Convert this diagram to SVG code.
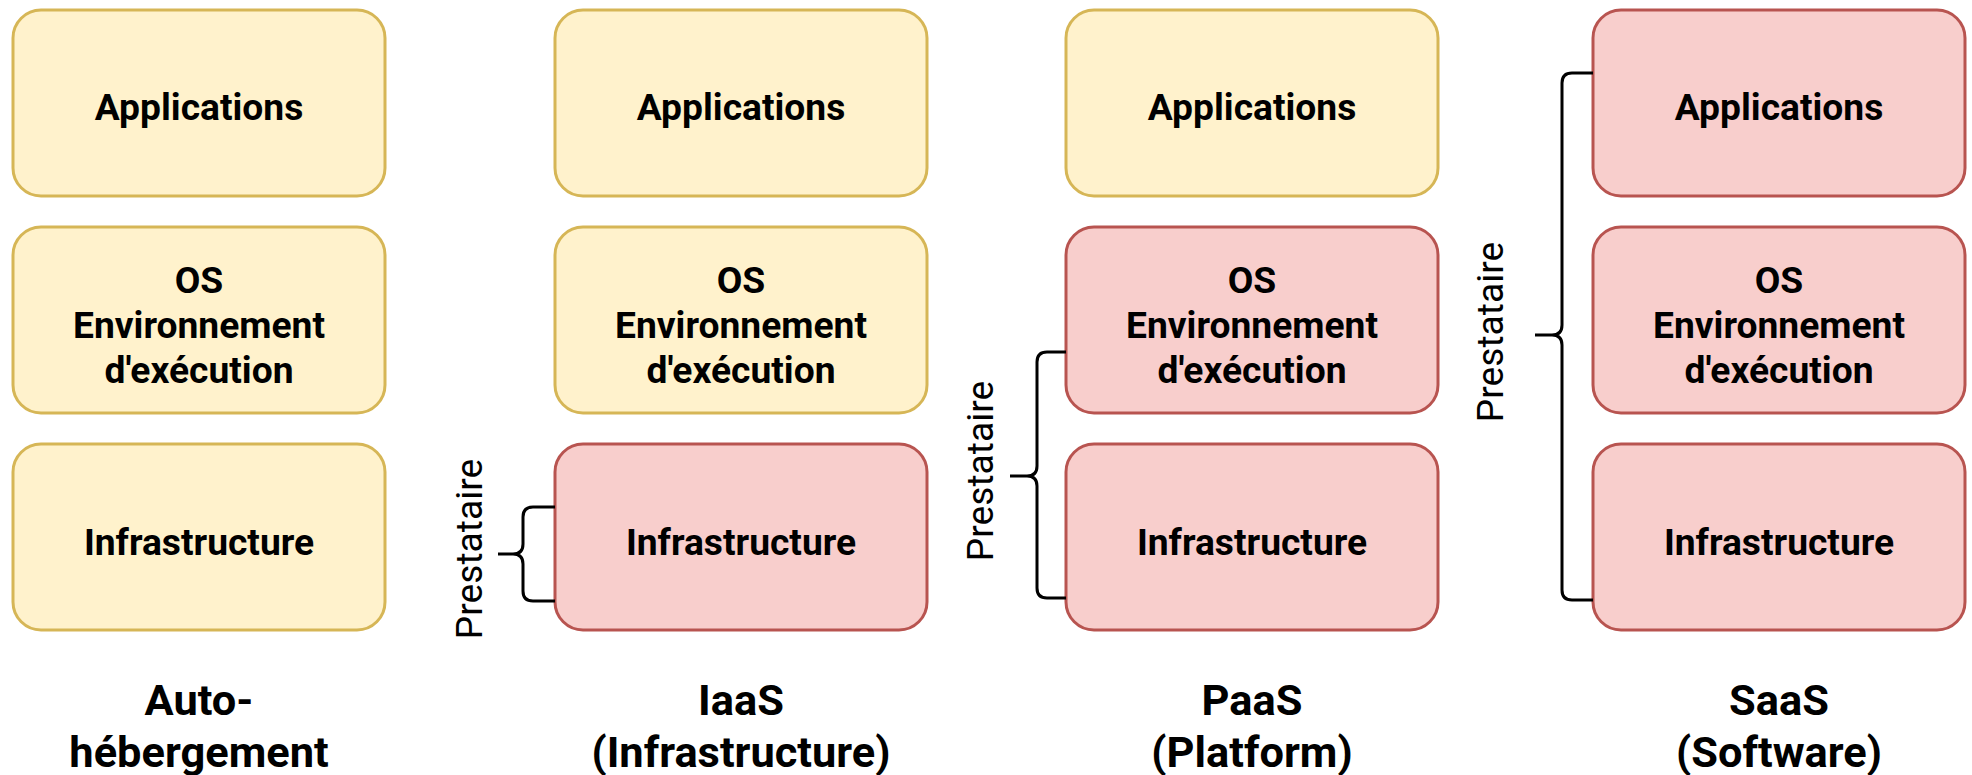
<svg xmlns="http://www.w3.org/2000/svg" width="1972" height="775" viewBox="0 0 1972 775">
<style>
.y{fill:#fff2cc;stroke:#d6b656;stroke-width:3}
.r{fill:#f8cecc;stroke:#b85450;stroke-width:3}
.t{font-family:Roboto,"Liberation Sans",sans-serif;font-weight:bold;font-size:37.2px;fill:#000;text-anchor:middle}
.h{font-family:Roboto,"Liberation Sans",sans-serif;font-weight:bold;font-size:43.4px;fill:#000;text-anchor:middle}
.p{font-family:Roboto,"Liberation Sans",sans-serif;font-size:37.2px;fill:#000;text-anchor:middle}
.b{fill:none;stroke:#000;stroke-width:3}
</style>
<rect width="1972" height="775" fill="#fff"/>
<g id="auto-app"><rect class="y" x="13" y="10" width="372" height="186" rx="28"/><text class="t" x="199" y="120">Applications</text></g>
<g id="auto-os"><rect class="y" x="13" y="227" width="372" height="186" rx="28"/><text class="t" x="199" y="293">OS</text><text class="t" x="199" y="338">Environnement</text><text class="t" x="199" y="383">d'exécution</text></g>
<g id="auto-infra"><rect class="y" x="13" y="444" width="372" height="186" rx="28"/><text class="t" x="199" y="555">Infrastructure</text></g>
<g id="auto-title"><text class="h" x="199" y="715">Auto-</text><text class="h" x="199" y="767">hébergement</text></g>

<g id="iaas-app"><rect class="y" x="555" y="10" width="372" height="186" rx="28"/><text class="t" x="741" y="120">Applications</text></g>
<g id="iaas-os"><rect class="y" x="555" y="227" width="372" height="186" rx="28"/><text class="t" x="741" y="293">OS</text><text class="t" x="741" y="338">Environnement</text><text class="t" x="741" y="383">d'exécution</text></g>
<g id="iaas-infra"><rect class="r" x="555" y="444" width="372" height="186" rx="28"/><text class="t" x="741" y="555">Infrastructure</text></g>
<g id="iaas-title"><text class="h" x="741" y="715">IaaS</text><text class="h" x="741" y="767">(Infrastructure)</text></g>

<g id="paas-app"><rect class="y" x="1066" y="10" width="372" height="186" rx="28"/><text class="t" x="1252" y="120">Applications</text></g>
<g id="paas-os"><rect class="r" x="1066" y="227" width="372" height="186" rx="28"/><text class="t" x="1252" y="293">OS</text><text class="t" x="1252" y="338">Environnement</text><text class="t" x="1252" y="383">d'exécution</text></g>
<g id="paas-infra"><rect class="r" x="1066" y="444" width="372" height="186" rx="28"/><text class="t" x="1252" y="555">Infrastructure</text></g>
<g id="paas-title"><text class="h" x="1252" y="715">PaaS</text><text class="h" x="1252" y="767">(Platform)</text></g>

<g id="saas-app"><rect class="r" x="1593" y="10" width="372" height="186" rx="28"/><text class="t" x="1779" y="120">Applications</text></g>
<g id="saas-os"><rect class="r" x="1593" y="227" width="372" height="186" rx="28"/><text class="t" x="1779" y="293">OS</text><text class="t" x="1779" y="338">Environnement</text><text class="t" x="1779" y="383">d'exécution</text></g>
<g id="saas-infra"><rect class="r" x="1593" y="444" width="372" height="186" rx="28"/><text class="t" x="1779" y="555">Infrastructure</text></g>
<g id="saas-title"><text class="h" x="1779" y="715">SaaS</text><text class="h" x="1779" y="767">(Software)</text></g>

<g id="braces">
<path class="b" d="M555,507 H533 Q523,507 523,517 V544 Q523,554 513,554 H498 M513,554 Q523,554 523,564 V591 Q523,601 533,601 H555"/>
<path class="b" d="M1066,352 H1047 Q1037,352 1037,362 V466 Q1037,476 1027,476 H1010 M1027,476 Q1037,476 1037,486 V588 Q1037,598 1047,598 H1066"/>
<path class="b" d="M1593,73 H1572 Q1562,73 1562,83 V325 Q1562,335 1552,335 H1535 M1552,335 Q1562,335 1562,345 V590 Q1562,600 1572,600 H1593"/>
</g>
<g id="labels">
<text class="p" transform="translate(482,549) rotate(-90)">Prestataire</text>
<text class="p" transform="translate(993,471) rotate(-90)">Prestataire</text>
<text class="p" transform="translate(1503,332) rotate(-90)">Prestataire</text>
</g>
</svg>
